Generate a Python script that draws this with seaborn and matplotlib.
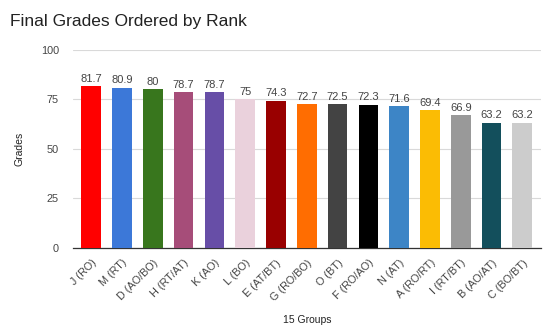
import matplotlib
matplotlib.use("Agg")
import matplotlib.pyplot as plt
import seaborn as sns
import pandas as pd

groups = ["J (RO)", "M (RT)", "D (AO/BO)", "H (RT/AT)", "K (AO)", "L (BO)", "E (AT/BT)",
          "G (RO/BO)", "O (BT)", "F (RO/AO)", "N (AT)", "A (RO/RT)", "I (RT/BT)", "B (AO/AT)", "C (BO/BT)"]
grades = [81.7, 80.9, 80, 78.7, 78.7, 75, 74.3, 72.7, 72.5, 72.3, 71.6, 69.4, 66.9, 63.2, 63.2]
labels = ["81.7", "80.9", "80", "78.7", "78.7", "75", "74.3", "72.7", "72.5", "72.3", "71.6", "69.4", "66.9", "63.2", "63.2"]
colors = ["#ff0000", "#3c78d8", "#38761d", "#a64d79", "#674ea7", "#ead1dc", "#990000",
          "#ff6d01", "#434343", "#000000", "#3d85c6", "#fbbc04", "#999999", "#134f5c", "#cccccc"]

sns.set_theme(style="white")
plt.rcParams['font.family'] = ['Liberation Sans', 'DejaVu Sans']

df = pd.DataFrame({"group": groups, "grade": grades})

fig = plt.figure(figsize=(5.43, 3.28), dpi=100)
ax = fig.add_axes([0.134, 0.244, 0.862, 0.604])
sns.barplot(data=df, x="group", y="grade", hue="group", palette=colors, legend=False,
            width=0.64, saturation=1, linewidth=0, ax=ax, zorder=3)
ax.set_ylim(0, 100)
ax.set_yticks([0, 25, 50, 75, 100])
ax.yaxis.grid(True, color="#d9d9d9", linewidth=0.8, zorder=0)
ax.set_axisbelow(True)
for s in ["top", "right", "left"]:
    ax.spines[s].set_visible(False)
ax.spines["bottom"].set_color("#333333")
ax.spines["bottom"].set_linewidth(0.9)
ax.set_xlim(-0.6, 14.6)
ax.tick_params(axis="y", length=0, labelsize=7.8, colors="#444444", pad=10)
ax.tick_params(axis="x", length=0, labelsize=7.8, colors="#444444", pad=7)
plt.setp(ax.get_xticklabels(), rotation=45, ha="right", rotation_mode="anchor")
for i, (v, t) in enumerate(zip(grades, labels)):
    ax.text(i, v + 1.2, t, ha="center", va="bottom", fontsize=8, color="#444444")
ax.set_xlabel("15 Groups", fontsize=7.5, color="#222222", labelpad=9)
ax.set_ylabel("Grades", fontsize=7.5, color="#222222", labelpad=12)
fig.text(0.018, 0.935, "Final Grades Ordered by Rank", fontsize=12.5, color="#222222",
         ha="left", va="center")
fig.savefig("out.png", dpi=100, facecolor="white")
